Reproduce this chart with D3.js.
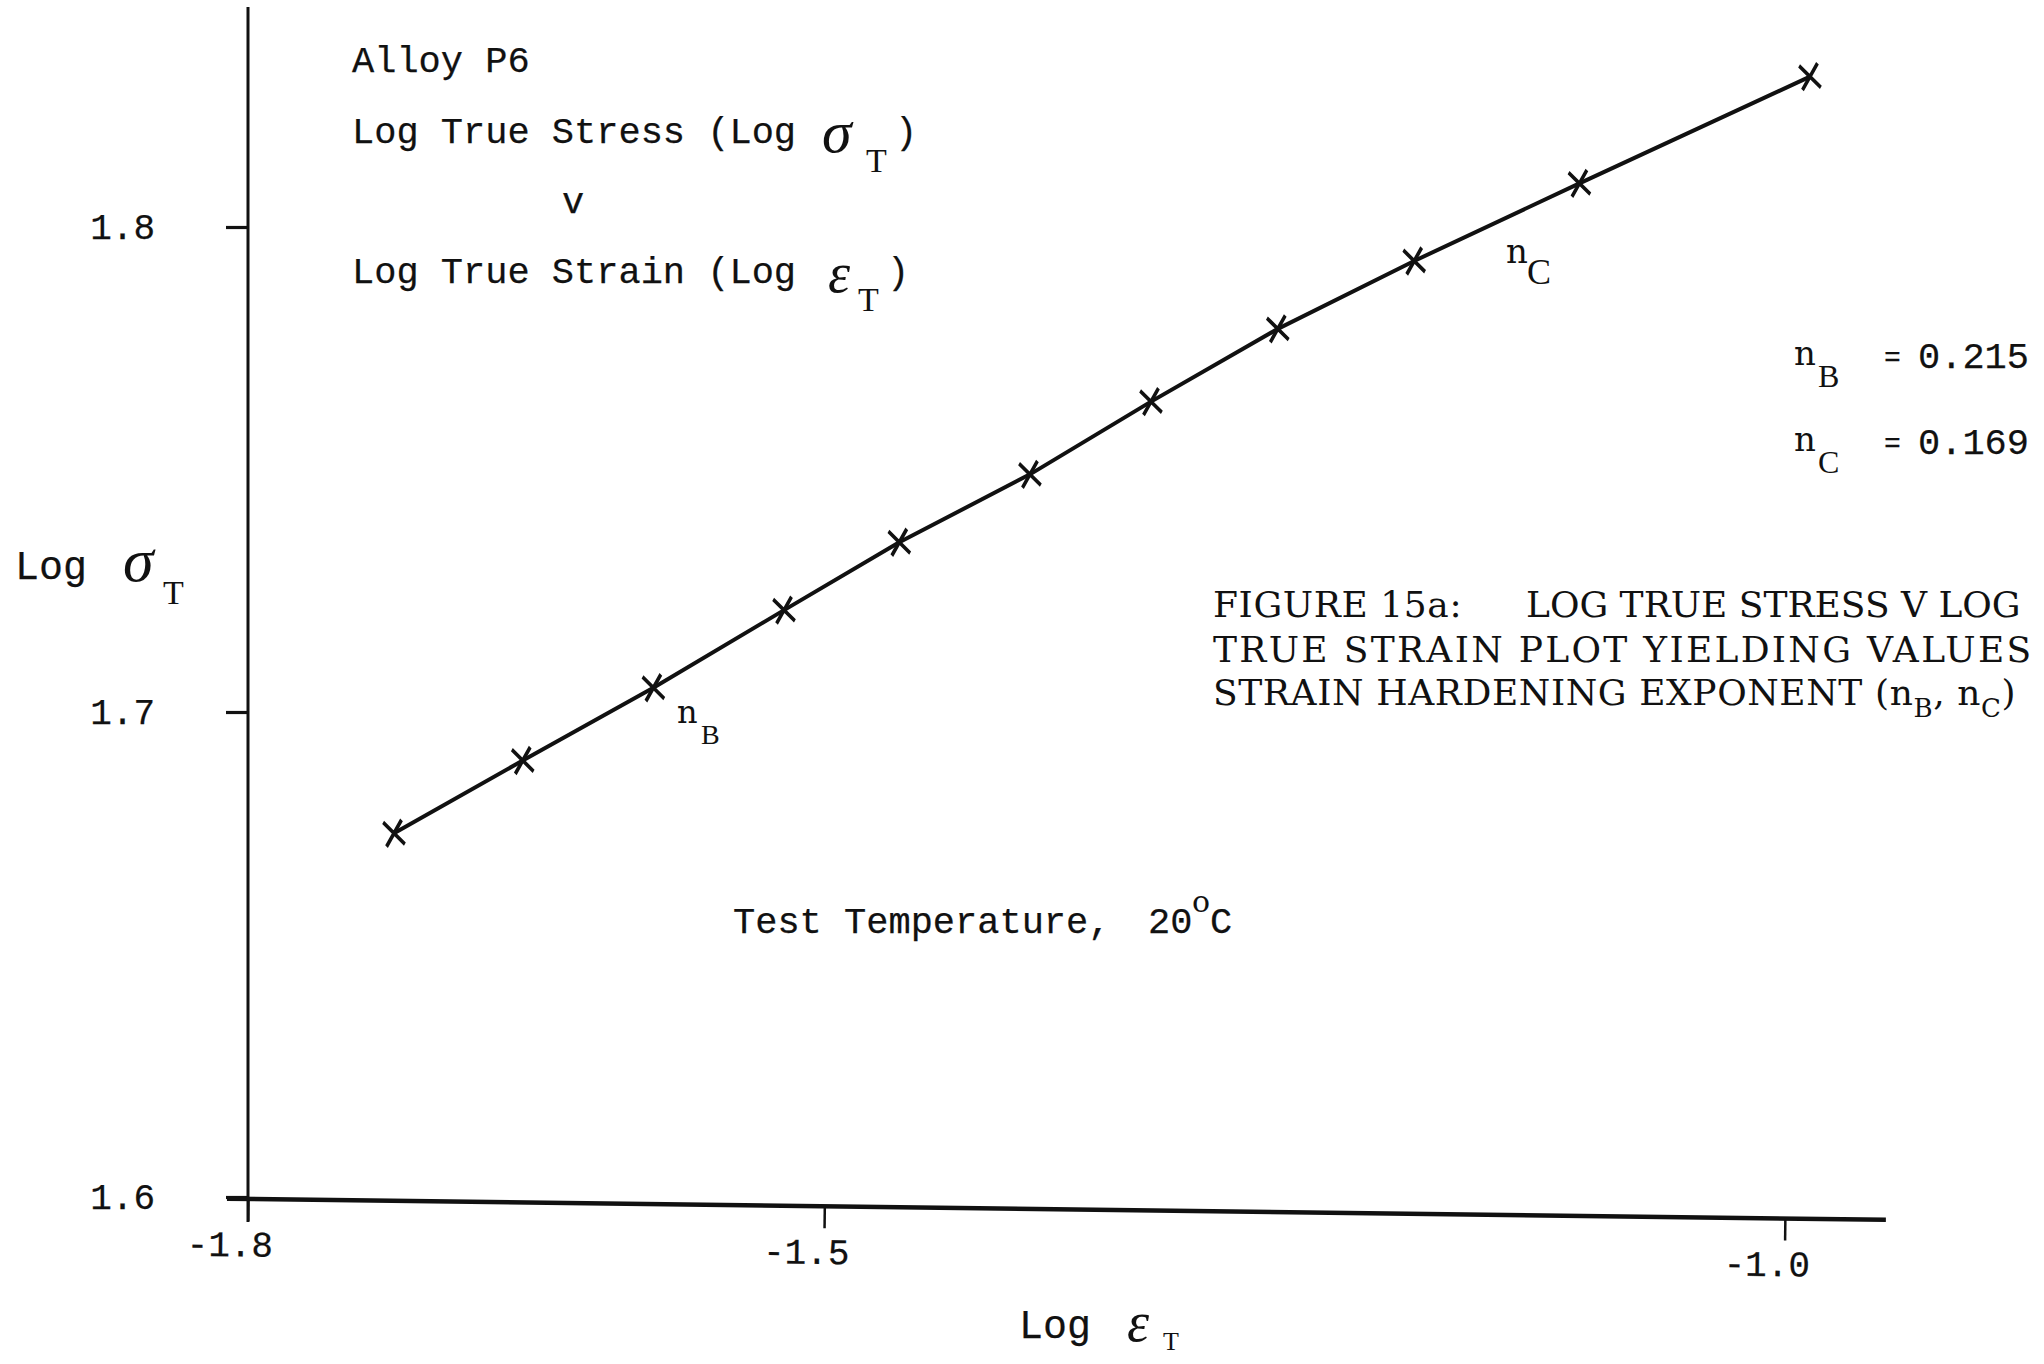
<!DOCTYPE html>
<html><head><meta charset="utf-8">
<script src="https://cdn.jsdelivr.net/npm/d3@7"></script>
<style>
html,body{margin:0;padding:0;background:#fff;overflow:hidden}
svg{display:block;background:#fff}
.mono{font-family:"Liberation Mono","DejaVu Sans Mono",monospace;fill:#111;stroke:#111;stroke-width:0.25px}
.serif{font-family:"DejaVu Serif",serif;fill:#111}
.greek{font-family:"Liberation Serif","DejaVu Serif",serif;font-style:italic;fill:#111}
.sub{font-family:"Liberation Serif","DejaVu Serif",serif;fill:#111}
</style></head><body>
<svg id="chart" width="2044" height="1364"></svg>
<script>
// ---- data ----
const logStrain = [-1.724, -1.657, -1.589, -1.521, -1.461, -1.393, -1.330, -1.264, -1.193, -1.107, -0.987];
const logStress = [1.675, 1.690, 1.705, 1.721, 1.735, 1.749, 1.764, 1.779, 1.793, 1.809, 1.831];
const xTickValues = [-1.8, -1.5, -1.0];
const xTickLabels = ["-1.8", "-1.5", "-1.0"];
const yTickValues = [1.6, 1.7, 1.8];
const yTickLabels = ["1.6", "1.7", "1.8"];
const exponentNames = ["B", "C"];
const exponentValues = ["0.215", "0.169"];

const svg = d3.select("#chart");

const x = d3.scaleLinear().domain([-1.8, -1.0]).range([248, 1785]);
const y = d3.scaleLinear().domain([1.6, 1.8]).range([1197, 227]);

// ---- Y axis ----
const yAxisG = svg.append("g").attr("transform", "translate(248,0)")
  .call(d3.axisLeft(y).tickValues(yTickValues).tickSize(22).tickPadding(71)
    .tickFormat((d, i) => yTickLabels[i]));
yAxisG.select(".domain").remove();
yAxisG.selectAll(".tick line").attr("stroke", "#111").attr("stroke-width", 3.2);
yAxisG.selectAll(".tick text").attr("class", "mono").attr("font-size", 36).attr("fill", "#111");
yAxisG.append("line").attr("x1", 0).attr("x2", 0).attr("y1", 7).attr("y2", 1222)
  .attr("stroke", "#111").attr("stroke-width", 3);

// ---- X axis (slightly skewed as in the scan) ----
const xAxisG = svg.append("g").attr("transform", "translate(0,1199) rotate(0.73,248,0)")
  .call(d3.axisBottom(x).tickValues(xTickValues).tickSize(22).tickPadding(10)
    .tickFormat((d, i) => xTickLabels[i]));
xAxisG.select(".domain").remove();
xAxisG.selectAll(".tick line").attr("stroke", "#111").attr("stroke-width", 2.5);
xAxisG.selectAll(".tick text").attr("class", "mono").attr("font-size", 36)
  .attr("fill", "#111").attr("dx", -18);
xAxisG.append("line").attr("x1", 227).attr("x2", 1886).attr("y1", 0).attr("y2", 0)
  .attr("stroke", "#111").attr("stroke-width", 4.5);

// ---- data line and markers ----
const pts = logStrain.map((v, i) => [v, logStress[i]]);
svg.append("path").datum(pts)
  .attr("fill", "none").attr("stroke", "#111").attr("stroke-width", 4)
  .attr("stroke-linejoin", "round")
  .attr("d", d3.line().x(d => x(d[0])).y(d => y(d[1])));
svg.append("g").selectAll("path").data(pts).join("path")
  .attr("transform", d => `translate(${x(d[0])},${y(d[1])}) rotate(-8) scale(0.95,1.25)`)
  .attr("d", d3.symbol(d3.symbolX, 250))
  .attr("fill", "none").attr("stroke", "#111").attr("stroke-width", 3.4);

// ---- helper for text ----
function txt(cls, size, tx, ty, s, extra) {
  const t = svg.append("text").attr("class", cls).attr("font-size", size)
    .attr("x", tx).attr("y", ty).text(s);
  if (extra) extra(t);
  return t;
}

// ---- upper-left annotation ----
txt("mono", 37, 352, 72, "Alloy P6");
txt("mono", 37, 352, 143, "Log True Stress (Log");
txt("greek", 60, 822, 152, "σ");
txt("sub", 34, 866, 172, "T");
txt("mono", 37, 895, 143, ")");
txt("mono", 37, 562, 213, "v");
txt("mono", 37, 352, 283, "Log True Strain (Log");
txt("greek", 56, 828, 292, "ε");
txt("sub", 34, 858, 311, "T");
txt("mono", 37, 887, 283, ")");

// ---- axis titles ----
txt("mono", 40, 15, 579, "Log");
txt("greek", 62, 123, 581, "σ");
txt("sub", 34, 163, 604, "T");
txt("mono", 40, 1019, 1338, "Log");
txt("greek", 56, 1127, 1341, "ε");
txt("sub", 26, 1163, 1350, "T");

// ---- segment labels ----
txt("serif", 32, 677, 723, "n");
txt("sub", 28, 701, 744, exponentNames[0]);
txt("serif", 34, 1506, 263, "n");
txt("sub", 36, 1527, 284, exponentNames[1]);

// ---- exponent values ----
const valY = [366, 452];
exponentNames.forEach((nm, i) => {
  txt("serif", 34, 1794, valY[i] - 1, "n");
  txt("sub", 32, 1818, valY[i] + 21, nm);
  txt("mono", 28, 1884, valY[i], "=");
  txt("mono", 37, 1918, valY[i] + 2, exponentValues[i]);
});

// ---- test temperature ----
txt("mono", 37, 733, 933, "Test Temperature,");
txt("mono", 37, 1148, 933, "20");
txt("serif", 30, 1192, 912, "o");
txt("mono", 37, 1210, 933, "C");

// ---- caption (as much as the scan shows) ----
txt("serif", 36, 1213, 617, "FIGURE 15a:", t => t.attr("letter-spacing", 0.6));
txt("serif", 36, 1526, 617, "LOG TRUE STRESS V LOG");
txt("serif", 36, 1213, 662, "TRUE STRAIN PLOT YIELDING VALUES", t => t.attr("letter-spacing", 2.3));
const l3 = svg.append("text").attr("class", "serif").attr("font-size", 36)
  .attr("x", 1213).attr("y", 705).attr("letter-spacing", 0.6);
l3.append("tspan").text("STRAIN HARDENING EXPONENT (n");
l3.append("tspan").attr("dy", 12).attr("font-size", 26).text("B");
l3.append("tspan").attr("dy", -12).text(", n");
l3.append("tspan").attr("dy", 12).attr("font-size", 26).text("C");
l3.append("tspan").attr("dy", -12).text(")");
</script>
</body></html>
